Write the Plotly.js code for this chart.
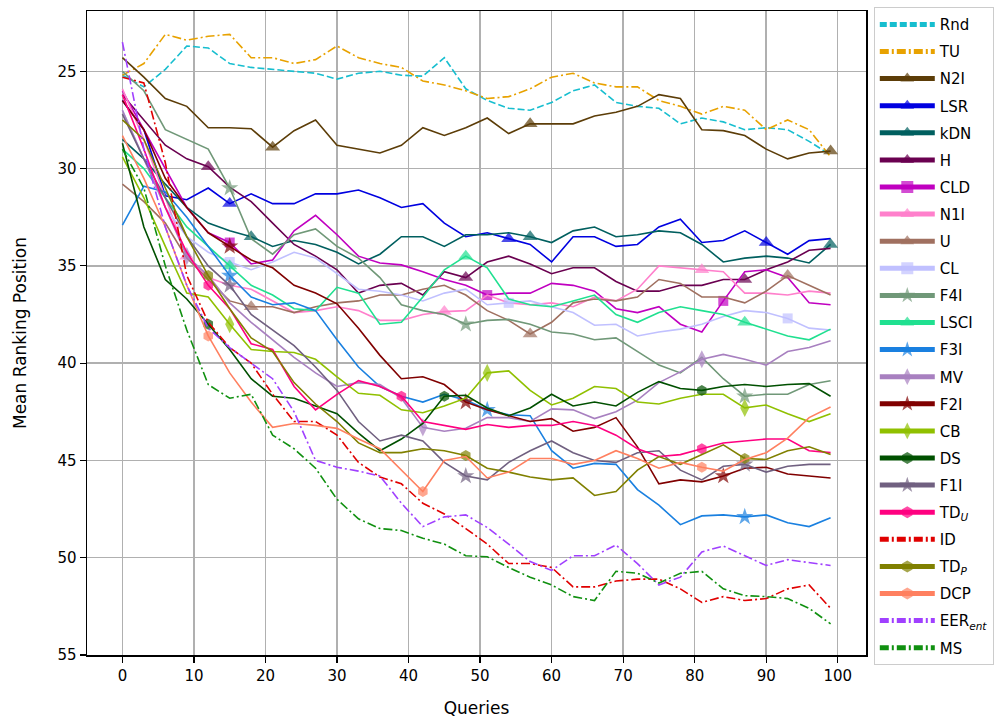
<!DOCTYPE html>
<html><head><meta charset="utf-8">
<script src="https://cdn.plot.ly/plotly-3.0.1.min.js"></script>
<style>html,body{margin:0;padding:0;background:#fff}</style>
</head><body><div id="chart" style="width:1006px;height:724px"></div>
<script>
// Queries (x)
const queries = [0,3,6,9,12,15,18,21,24,27,30,33,36,39,42,45,48,51,54,57,60,63,66,69,72,75,78,81,84,87,90,93,96,99];

// Mean ranking position per method
const rnd  = [25.2,25.8,24.9,23.7,23.8,24.6,24.8,24.9,25.0,25.1,25.4,25.1,25.0,25.2,25.25,24.3,25.9,26.5,26.9,27.0,26.6,26.0,25.7,26.6,26.8,26.9,27.7,27.4,27.6,28.0,27.9,28.0,28.6,29.3];
const tu   = [25.2,24.6,23.1,23.4,23.2,23.1,24.3,24.3,24.6,24.4,23.7,24.3,24.6,24.8,25.5,25.7,26.0,26.4,26.3,25.9,25.3,25.1,25.6,25.8,25.8,26.5,26.8,27.2,26.8,27.0,28.0,27.5,28.0,29.4];
const n2i  = [24.3,25.3,26.4,26.8,27.9,27.9,27.95,28.9,28.05,27.5,28.8,29.0,29.2,28.8,27.9,28.3,27.9,27.4,28.2,27.7,27.7,27.7,27.3,27.1,26.8,26.2,26.4,28.0,28.05,28.3,29.0,29.5,29.2,29.1];
const lsr  = [26.5,28.0,31.4,31.6,31.0,31.8,31.3,31.8,31.8,31.3,31.3,31.1,31.5,32.0,31.8,32.8,33.5,33.3,33.6,33.9,34.8,33.5,33.5,34.0,33.9,33.0,32.6,33.8,33.7,33.2,33.8,34.4,33.7,33.6];
const kdn  = [28.5,29.5,30.8,32.0,32.8,33.2,33.5,34.0,33.7,33.9,34.3,34.9,34.4,33.5,33.5,34.0,33.4,33.4,33.3,33.5,33.8,33.2,33.0,33.5,33.4,33.2,33.3,33.9,34.8,34.6,34.5,34.6,34.85,33.9];
const h    = [26.2,27.5,28.8,29.5,29.9,30.95,31.7,32.8,33.9,34.5,35.2,36.4,36.0,35.9,36.5,35.3,35.6,34.8,34.5,34.9,35.4,35.1,35.1,35.8,36.3,36.3,36.0,36.0,35.7,35.7,35.2,34.8,34.2,34.1];
const cld  = [26.0,28.0,30.0,32.0,33.3,33.8,34.9,34.7,33.2,32.4,33.4,34.5,34.85,34.95,35.3,35.7,36.0,36.5,36.4,36.4,35.9,36.0,36.3,37.2,37.4,37.1,38.0,38.4,36.8,35.3,35.2,35.6,36.9,37.0];
const n1i  = [25.9,28.5,31.5,34.5,35.6,36.0,36.2,36.8,37.4,37.3,37.1,37.3,37.8,37.8,37.5,37.35,37.3,36.5,36.9,37.0,36.9,37.1,36.6,36.8,36.2,35.0,35.1,35.2,35.3,36.4,36.4,36.5,36.3,36.4];
const u    = [30.8,31.7,32.8,34.6,35.7,36.8,37.1,37.1,37.4,37.1,36.9,36.8,36.5,36.5,36.2,36.0,36.5,37.3,37.8,38.5,37.9,36.9,36.7,36.8,36.6,35.7,35.9,36.6,36.6,36.9,36.3,35.5,36.0,36.5];
const cl   = [27.0,29.5,32.0,33.5,34.3,34.8,35.2,34.8,34.3,34.6,35.4,36.2,36.3,36.5,36.8,36.4,36.2,37.0,36.9,36.8,37.1,37.4,38.05,38.0,38.6,38.4,38.25,38.0,37.6,37.3,37.4,37.7,38.2,38.3];
const f4i  = [25.0,26.0,28.0,28.5,29.0,31.0,33.6,34.4,33.4,33.1,34.0,34.6,35.6,37.0,37.3,37.5,38.0,37.8,37.75,38.0,38.4,38.5,38.8,38.7,39.4,40.1,40.5,39.7,40.8,41.7,41.6,41.6,41.1,40.9];
const lsci = [29.0,30.0,31.5,33.0,34.0,35.0,36.0,36.5,37.2,37.3,36.1,36.4,38.0,37.9,36.6,35.2,34.5,35.1,36.7,37.0,37.1,36.8,36.5,37.5,37.9,37.4,37.1,37.3,37.5,37.9,38.25,38.6,38.8,38.25];
const f3i  = [32.9,30.9,31.2,32.5,34.0,35.5,36.6,37.0,36.9,37.3,38.8,40.2,41.2,41.7,42.0,41.6,41.9,42.4,42.65,42.7,44.5,45.4,45.15,45.2,46.5,47.3,48.3,47.85,47.8,47.9,47.8,48.2,48.4,47.95];
const mv   = [27.0,29.5,32.0,34.5,35.5,36.9,37.9,38.8,39.7,40.5,41.2,41.0,41.1,41.8,43.3,43.5,43.35,42.8,42.8,43.0,42.35,42.4,42.85,42.5,41.9,41.0,40.45,39.8,39.55,39.8,40.1,39.4,39.2,38.85];
const f2i  = [26.5,28.0,30.5,32.0,33.3,34.0,34.7,35.1,36.0,36.4,36.95,38.2,39.6,40.8,40.7,41.1,42.0,42.4,42.7,43.0,42.85,43.5,43.3,42.8,44.3,46.2,46.0,46.1,45.8,45.4,45.35,45.7,45.8,45.9];
const cb   = [29.4,31.5,34.0,36.4,36.6,38.0,39.3,39.4,39.45,39.8,40.7,41.55,41.65,42.4,42.55,42.2,41.8,40.5,40.4,41.4,42.15,41.8,41.2,41.3,42.0,42.1,41.8,41.6,41.6,42.3,42.15,42.6,43.0,42.6];
const ds   = [28.7,33.0,35.7,36.7,38.0,39.3,40.8,41.7,41.8,42.2,42.6,43.6,44.5,43.9,43.1,41.7,41.65,42.3,42.7,42.3,41.6,42.2,42.0,42.2,41.5,40.95,41.3,41.4,41.2,41.1,41.2,41.1,41.05,41.7];
const f1i  = [27.2,29.5,31.5,33.5,35.0,36.0,37.5,38.3,39.1,40.2,41.4,43.0,44.0,43.7,44.0,45.1,45.8,46.0,45.1,44.5,44.0,44.6,45.0,45.1,44.6,44.5,45.5,46.0,45.3,45.2,45.6,45.3,45.2,45.2];
const tdU  = [26.2,29.0,32.0,34.3,36.0,37.2,39.0,39.3,41.2,42.4,41.6,40.9,41.2,41.7,43.0,43.2,43.4,43.15,43.3,43.2,43.2,43.0,43.2,43.7,44.4,44.8,44.7,44.4,44.1,44.0,43.9,43.9,44.5,44.6];
const id   = [25.3,25.6,29.7,35.5,37.9,39.2,40.0,41.6,43.0,43.0,43.7,45.1,45.85,46.2,47.2,47.75,48.5,49.3,50.3,50.3,50.5,51.5,51.5,51.2,51.1,51.1,51.6,52.3,52.0,52.2,52.1,51.6,51.4,52.6];
const tdP  = [27.5,28.5,31.0,33.5,35.5,37.2,38.7,39.4,41.0,42.1,43.0,44.1,44.6,44.6,44.4,44.5,44.75,45.4,45.6,45.85,46.0,45.9,46.8,46.6,45.5,44.8,45.2,44.7,44.2,44.9,44.95,44.5,44.3,44.7];
const dcp  = [28.3,30.5,33.0,36.0,38.6,40.5,42.0,43.3,43.1,43.2,43.35,43.9,44.4,45.5,46.6,45.0,44.8,45.9,45.6,44.9,44.9,45.2,45.0,44.5,44.9,45.4,45.1,45.35,45.55,44.95,44.6,43.85,42.8,42.25];
const eer  = [23.5,29.0,33.0,36.0,38.2,39.2,40.0,40.8,42.5,45.0,45.35,45.55,45.8,47.2,48.4,47.9,47.8,48.45,49.3,50.2,50.65,49.9,49.9,49.35,50.3,51.4,51.0,49.7,49.4,49.9,50.4,50.1,50.25,50.4];
const ms   = [29.0,31.0,35.0,38.3,41.1,41.8,41.6,43.7,44.4,45.4,47.0,48.0,48.5,48.6,49.0,49.3,49.9,49.95,50.5,51.0,51.4,52.0,52.2,50.7,50.8,51.3,50.8,50.7,51.6,51.95,52.0,52.1,52.6,53.4];

// Queries at which each method shows a marker
const markN2I=[21,57,99], markLSR=[15,54,90], markKDN=[18,57,99], markH=[12,48,87], markCLD=[15,51,84],
      markN1I=[9,45,81], markU=[18,57,93], markCL=[15,54,93], markF4I=[15,48,87], markLSCI=[15,48,87],
      markF3I=[15,51,87], markMV=[9,42,81], markF2I=[15,48,84], markCB=[15,51,87], markDS=[12,45,81],
      markF1I=[15,48,87], markTDU=[12,39,81], markTDP=[12,48,87], markDCP=[12,42,81];

const dashDot = '9px,3px,2px,3px';
const series = [
  {name:'Rnd', y:rnd, color:'#17becf', dash:'7px,3px'},
  {name:'TU', y:tu, color:'#e8a200', dash:dashDot},
  {name:'N2I', y:n2i, color:'#5c3d08', sym:'triangle-up', marks:markN2I},
  {name:'LSR', y:lsr, color:'#0000e0', sym:'triangle-up', marks:markLSR},
  {name:'kDN', y:kdn, color:'#005f5f', sym:'triangle-up', marks:markKDN},
  {name:'H', y:h, color:'#6a0050', sym:'triangle-up', marks:markH},
  {name:'CLD', y:cld, color:'#c000c0', sym:'square', marks:markCLD},
  {name:'N1I', y:n1i, color:'#ff80cc', sym:'triangle-up', marks:markN1I},
  {name:'U', y:u, color:'#a07060', sym:'triangle-up', marks:markU},
  {name:'CL', y:cl, color:'#c0c0ff', sym:'square', marks:markCL},
  {name:'F4I', y:f4i, color:'#709878', sym:'star', marks:markF4I},
  {name:'LSCI', y:lsci, color:'#20e090', sym:'triangle-up', marks:markLSCI},
  {name:'F3I', y:f3i, color:'#1a80e0', sym:'star', marks:markF3I},
  {name:'MV', y:mv, color:'#a880c0', sym:'diamond-tall', marks:markMV},
  {name:'F2I', y:f2i, color:'#800000', sym:'star', marks:markF2I},
  {name:'CB', y:cb, color:'#90c000', sym:'diamond-tall', marks:markCB},
  {name:'DS', y:ds, color:'#005000', sym:'hexagon', marks:markDS},
  {name:'F1I', y:f1i, color:'#706080', sym:'star', marks:markF1I},
  {name:'TD<sub><i>U</i></sub>', y:tdU, color:'#ff0080', sym:'hexagon', marks:markTDU},
  {name:'ID', y:id, color:'#e00000', dash:dashDot},
  {name:'TD<sub><i>P</i></sub>', y:tdP, color:'#808000', sym:'hexagon', marks:markTDP},
  {name:'DCP', y:dcp, color:'#ff8060', sym:'hexagon', marks:markDCP},
  {name:'EER<sub><i>ent</i></sub>', y:eer, color:'#a040ff', dash:dashDot},
  {name:'MS', y:ms, color:'#109010', dash:dashDot}
];

const traces = series.map((s, i) => {
  const t = {
    type:'scatter', x:queries, y:s.y, name:s.name, legendgroup:'g' + i,
    line:{color:s.color, width:1.6, dash:s.dash || 'solid'},
    mode: s.sym ? 'lines+markers' : 'lines'
  };
  if (s.sym) {
    const base = s.sym === 'square' ? 10 : (s.sym === 'hexagon' ? 11 : 13);
    t.marker = {symbol:s.sym, color:s.color, line:{width:0},
      size: queries.map(q => s.marks.includes(q) ? base : 0)};
  }
  return t;
});

const font = {family:'DejaVu Sans, sans-serif', size:15, color:'#000'};
const layout = {
  width:1006, height:724,
  margin:{l:87, r:140, t:7, b:69},
  paper_bgcolor:'#fff', plot_bgcolor:'#fff',
  font:font,
  showlegend:true,
  legend:{x:1.01, xanchor:'left', y:1.006, yanchor:'top', bordercolor:'#cccccc', borderwidth:1,
          bgcolor:'#fff', font:{family:'DejaVu Sans, sans-serif', size:15}, itemsizing:'constant',
          tracegroupgap:4.6, maxheight:720, itemwidth:55},
  xaxis:{range:[-4.95,103.95], tick0:0, dtick:10, showgrid:true, gridcolor:'#b0b0b0', gridwidth:1.5,
         zeroline:false, showline:true, linecolor:'#000', linewidth:1.5, mirror:true,
         ticks:'outside', ticklen:6, tickwidth:1.2, tickcolor:'#000',
         title:{text:'Queries', font:{size:17}, standoff:18}},
  yaxis:{range:[55,21.9], tick0:25, dtick:5, showgrid:true, gridcolor:'#b0b0b0', gridwidth:1.5,
         zeroline:false, showline:true, linecolor:'#000', linewidth:1.5, mirror:true,
         ticks:'outside', ticklen:6, tickwidth:1.2, tickcolor:'#000',
         title:{text:'Mean Ranking Position', font:{size:17}, standoff:26}}
};
Plotly.newPlot('chart', traces, layout, {displayModeBar:false, staticPlot:true});
</script></body></html>
